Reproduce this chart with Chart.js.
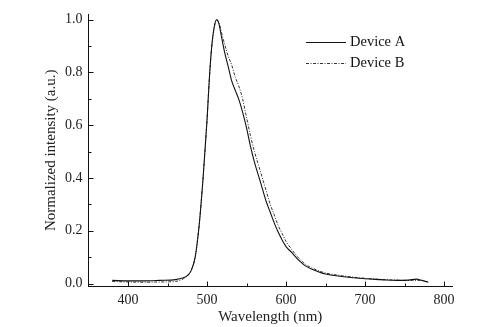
<!DOCTYPE html>
<html lang="en">
<head>
  <meta charset="UTF-8">
  <title>Normalized EL spectra</title>
  <script src="https://cdn.jsdelivr.net/npm/chart.js"></script>
  <style>
    html, body {
      margin: 0;
      padding: 0;
      background: #fff;
      overflow: hidden;
    }
    #chart {
      display: block;
    }
  </style>
</head>
<body>
  <canvas id="chart" width="503" height="327"></canvas>

  <script>
    // wavelengths (nm) and normalized intensities
    const wavelengthA = [380, 400, 420, 440, 460, 470, 475, 480, 485, 490, 495, 500, 503, 506, 509, 512, 515, 518, 522, 527, 531, 536, 540, 545, 550, 555, 560, 565, 570, 575, 580, 585, 590, 595, 600, 607, 615, 625, 640, 650, 670, 700, 720, 740, 755, 765, 772, 780];
    const intensityA  = [0.012, 0.010, 0.010, 0.012, 0.015, 0.022, 0.03, 0.05, 0.10, 0.22, 0.40, 0.62, 0.78, 0.90, 0.97, 1.0, 0.985, 0.94, 0.88, 0.82, 0.77, 0.73, 0.70, 0.65, 0.59, 0.52, 0.46, 0.41, 0.36, 0.31, 0.27, 0.23, 0.195, 0.165, 0.14, 0.118, 0.092, 0.066, 0.046, 0.036, 0.027, 0.018, 0.015, 0.012, 0.013, 0.017, 0.012, 0.005];

    const wavelengthB = [380, 400, 420, 440, 460, 470, 475, 480, 485, 490, 495, 500, 503, 506, 509, 512, 515, 518, 522, 527, 531, 536, 540, 545, 550, 555, 560, 565, 570, 575, 580, 585, 590, 595, 600, 607, 615, 625, 640, 650, 670, 700, 720, 740, 760, 770];
    const intensityB  = [0.008, 0.006, 0.005, 0.006, 0.008, 0.018, 0.028, 0.05, 0.10, 0.22, 0.40, 0.62, 0.78, 0.90, 0.97, 1.0, 0.99, 0.955, 0.91, 0.86, 0.83, 0.78, 0.75, 0.70, 0.63, 0.56, 0.50, 0.45, 0.40, 0.35, 0.30, 0.26, 0.22, 0.19, 0.16, 0.13, 0.10, 0.072, 0.05, 0.04, 0.03, 0.02, 0.016, 0.013, 0.012, 0.012];

    const xTicks = [400, 500, 600, 700, 800];
    const yTicks = [0.0, 0.2, 0.4, 0.6, 0.8, 1.0];
    const seriesNames = ['Device A', 'Device B'];

    const FONT = "'Liberation Serif', 'Times New Roman', serif";

    // ticks pointing into the plot, with minor ticks half way
    const inwardTicks = {
      id: 'inwardTicks',
      afterDatasetsDraw(chart) {
        const ctx = chart.ctx;
        const xs = chart.scales.x, ys = chart.scales.y;
        ctx.save();
        ctx.strokeStyle = '#111';
        ctx.lineWidth = 1;
        ctx.beginPath();
        const xb = Math.round(xs.top) + 0.5;
        for (let i = 0; i < xTicks.length; i++) {
          const px = Math.round(xs.getPixelForValue(xTicks[i])) + 0.5;
          ctx.moveTo(px, xb); ctx.lineTo(px, xb - 5);
          const mid = xTicks[i] + 50;
          if (mid <= xs.max) {
            const mx = Math.round(xs.getPixelForValue(mid)) + 0.5;
            ctx.moveTo(mx, xb); ctx.lineTo(mx, xb - 3);
          }
        }
        const yl = Math.round(ys.right) - 0.5;
        for (let i = 0; i < yTicks.length; i++) {
          const py = Math.round(ys.getPixelForValue(yTicks[i])) + 0.5;
          ctx.moveTo(yl, py); ctx.lineTo(yl + 5, py);
          if (i < yTicks.length - 1) {
            const my = Math.round(ys.getPixelForValue(yTicks[i] + 0.1)) + 0.5;
            ctx.moveTo(yl, my); ctx.lineTo(yl + 3, my);
          }
        }
        ctx.stroke();
        ctx.restore();
      }
    };

    // legend drawn inside the plot, top right
    const innerLegend = {
      id: 'innerLegend',
      afterDraw(chart) {
        const ctx = chart.ctx;
        const a = chart.chartArea;
        ctx.save();
        ctx.font = '14.5px ' + FONT;
        ctx.fillStyle = '#111';
        ctx.textBaseline = 'middle';
        chart.data.datasets.forEach((ds, i) => {
          const y = Math.round(a.top + 28 + i * 21) + 0.5;
          ctx.strokeStyle = ds.borderColor;
          ctx.lineWidth = 1;
          ctx.setLineDash(ds.borderDash || []);
          ctx.beginPath();
          ctx.moveTo(a.right - 146, y);
          ctx.lineTo(a.right - 106, y);
          ctx.stroke();
          ctx.setLineDash([]);
          ctx.fillText(ds.label, a.right - 102, y);
        });
        ctx.restore();
      }
    };

    new Chart(document.getElementById('chart'), {
      type: 'line',
      data: {
        datasets: [
          {
            label: seriesNames[0],
            data: wavelengthA.map((w, i) => ({ x: w, y: intensityA[i] })),
            borderColor: '#111',
            borderWidth: 1.1,
            pointRadius: 0,
            cubicInterpolationMode: 'monotone'
          },
          {
            label: seriesNames[1],
            data: wavelengthB.map((w, i) => ({ x: w, y: intensityB[i] })),
            borderColor: '#333',
            borderWidth: 1,
            borderDash: [3, 1.5, 1, 1.5],
            pointRadius: 0,
            cubicInterpolationMode: 'monotone'
          }
        ]
      },
      options: {
        responsive: false,
        animation: false,
        layout: { padding: { top: 14, right: 51, bottom: 1, left: 42 } },
        plugins: {
          legend: { display: false },
          tooltip: { enabled: false }
        },
        scales: {
          x: {
            type: 'linear',
            min: 350,
            max: 810,
            afterBuildTicks: s => { s.ticks = xTicks.map(v => ({ value: v })); },
            grid: { display: false, drawTicks: false },
            border: { display: true, color: '#111', width: 1 },
            ticks: {
              padding: 6,
              color: '#222',
              font: { family: FONT, size: 14 },
              maxRotation: 0
            },
            title: {
              display: true,
              text: 'Wavelength (nm)',
              color: '#222',
              font: { family: FONT, size: 15 },
              padding: { top: -7, bottom: 0 }
            }
          },
          y: {
            min: -0.01,
            max: 1.02,
            afterBuildTicks: s => { s.ticks = yTicks.map(v => ({ value: v })); },
            grid: { display: false, drawTicks: false },
            border: { display: true, color: '#111', width: 1 },
            ticks: {
              padding: 6,
              color: '#222',
              font: { family: FONT, size: 14 },
              callback: v => v.toFixed(1)
            },
            title: {
              display: true,
              text: 'Normalized intensity (a.u.)',
              color: '#222',
              font: { family: FONT, size: 15 },
              padding: { top: 0, bottom: -1 }
            }
          }
        }
      },
      plugins: [inwardTicks, innerLegend]
    });
  </script>
</body>
</html>
